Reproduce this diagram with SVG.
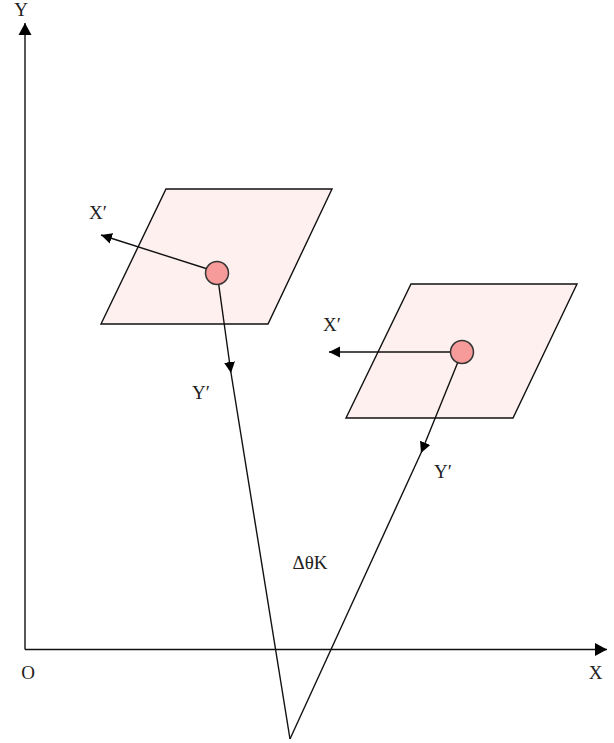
<svg xmlns="http://www.w3.org/2000/svg" width="614" height="743" viewBox="0 0 614 743">
<defs>
<marker id="ah" markerUnits="userSpaceOnUse" markerWidth="12" markerHeight="12" refX="11" refY="6" orient="auto">
<path d="M0,0.5 L11,6 L0,11.5 z" fill="#000"/>
</marker>
<marker id="ax" markerUnits="userSpaceOnUse" markerWidth="13" markerHeight="14" refX="12" refY="7" orient="auto">
<path d="M0,0.5 L12,7 L0,13.5 z" fill="#000"/>
</marker>
</defs>
<style>
.t{font-family:"Liberation Serif","Times New Roman",serif;font-size:19px;fill:#222}
.ln{stroke:#111;stroke-width:1.4;fill:none}
.pl{fill:#fdf0ee;stroke:#111;stroke-width:1.4}
.ci{fill:#f79a9a;stroke:#333;stroke-width:1.5}
</style>
<g id="axes">
<line class="ln" x1="25" y1="649.5" x2="25" y2="23" marker-end="url(#ax)"/>
<line class="ln" x1="25" y1="649.5" x2="607" y2="649.5" marker-end="url(#ax)"/>
<text class="t" x="21" y="16" text-anchor="middle">Y</text>
<text class="t" x="28" y="679" text-anchor="middle">O</text>
<text class="t" x="595.5" y="679" text-anchor="middle">X</text>
</g>
<g id="plane1">
<polygon class="pl" points="166,189 332,189 268,324 101,324"/>
</g>
<g id="plane2">
<polygon class="pl" points="411,284 577,284 513,418 346,418"/>
</g>
<g id="connectors">
<line class="ln" x1="217" y1="272" x2="101" y2="235" marker-end="url(#ah)"/>
<line class="ln" x1="217" y1="272" x2="231" y2="373" marker-end="url(#ah)"/>
<line class="ln" x1="231" y1="373" x2="290" y2="739"/>
<line class="ln" x1="462" y1="352" x2="329" y2="352" marker-end="url(#ah)"/>
<line class="ln" x1="462" y1="352" x2="421" y2="453" marker-end="url(#ah)"/>
<line class="ln" x1="421" y1="453" x2="290" y2="739"/>
</g>
<g id="center1">
<circle class="ci" cx="217" cy="273" r="11.5"/>
</g>
<g id="center2">
<circle class="ci" cx="462" cy="352" r="11.5"/>
</g>
<g id="labels">
<text class="t" x="98" y="219" text-anchor="middle">X′</text>
<text class="t" x="201" y="399" text-anchor="middle">Y′</text>
<text class="t" x="332" y="331" text-anchor="middle">X′</text>
<text class="t" x="443" y="478" text-anchor="middle">Y′</text>
<text class="t" x="310" y="569" text-anchor="middle">ΔθK</text>
</g>
</svg>
